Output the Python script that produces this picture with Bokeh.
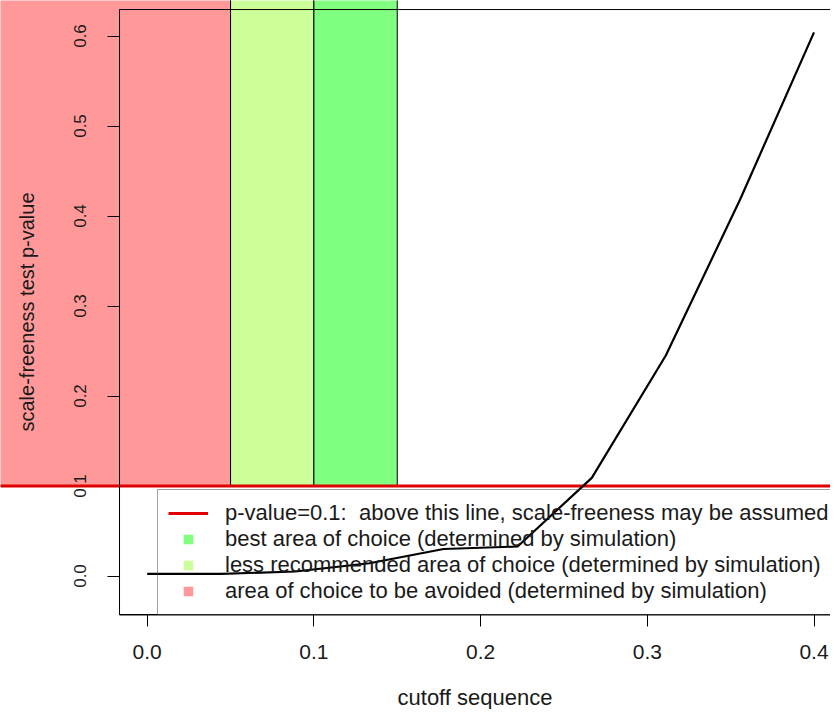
import math
from bokeh.plotting import figure
from bokeh.models import (Range1d, FixedTicker, Span, Legend, LegendItem,
                          CustomJSTickFormatter, ColumnDataSource)
from bokeh.embed import file_html
from bokeh.resources import INLINE

# ---------------- data ----------------
cutoff = [0.0, 0.0444, 0.0889, 0.1333, 0.1778, 0.2222, 0.2667, 0.3111, 0.3556, 0.4]
pvalue = [0.0024, 0.0024, 0.005, 0.0142, 0.030, 0.0328, 0.109, 0.245, 0.418, 0.604]

x_ticks = [0.0, 0.1, 0.2, 0.3, 0.4]
x_tick_labels = ["0.0", "0.1", "0.2", "0.3", "0.4"]
y_ticks = [0.0, 0.1, 0.2, 0.3, 0.4, 0.5, 0.6]
y_tick_labels = ["0.0", "0.1", "0.2", "0.3", "0.4", "0.5", "0.6"]

threshold = 0.1
zone_names = ["avoid", "less", "best"]
zone_starts = [-1.0, 0.05, 0.10]
zone_ends = [0.05, 0.10, 0.15]
zone_colors = ["#FF9999", "#CCFF99", "#80FF80"]

legend_labels = [
    "p-value=0.1:  above this line, scale-freeness may be assumed",
    "best area of choice (determined by simulation)",
    "less recommended area of choice (determined by simulation)",
    "area of choice to be avoided (determined by simulation)",
]

RED_LINE = "#E00000"
TXT = "#1a1a1a"

# ---------------- layout (pixel mapping of the original) ----------------
W, H = 830, 709
X0PX, XSCALE = 146.7, 1667.0      # canvas px of x=0, px per unit
Y0PX, YSCALE = 575.5, 900.0       # canvas px of y=0, px per unit
x_start, x_end = (0 - X0PX) / XSCALE, (W - X0PX) / XSCALE
y_end, y_start = (Y0PX - 0) / YSCALE, (Y0PX - H) / YSCALE

box_x0, box_x1 = -0.0166, 0.4165
box_y0, box_y1 = -0.0433, 0.6294

p = figure(width=W, height=H, x_range=Range1d(x_start, x_end),
           y_range=Range1d(y_start, y_end), output_backend="svg",
           toolbar_location=None, min_border=0, outline_line_color=None,
           background_fill_color="white")
p.grid.visible = False

# zones
src_z = ColumnDataSource(dict(left=zone_starts, right=zone_ends,
                              bottom=[threshold] * 3, top=[1.0] * 3,
                              color=zone_colors))
p.quad(left="left", right="right", bottom="bottom", top="top", source=src_z,
       fill_color="color", line_color="black", line_width=1)

# threshold line
p.add_layout(Span(location=threshold, dimension="width", line_color=RED_LINE,
                  line_width=3))

# legend proxies
nan = float("nan")
r_line = p.line([nan], [nan], line_color=RED_LINE, line_width=3)
r_best = p.scatter([nan], [nan], marker="square", fill_color=zone_colors[2], line_color=None)
r_less = p.scatter([nan], [nan], marker="square", fill_color=zone_colors[1], line_color=None)
r_avoid = p.scatter([nan], [nan], marker="square", fill_color=zone_colors[0], line_color=None)

legend = Legend(items=[LegendItem(label=legend_labels[0], renderers=[r_line]),
                       LegendItem(label=legend_labels[1], renderers=[r_best]),
                       LegendItem(label=legend_labels[2], renderers=[r_less]),
                       LegendItem(label=legend_labels[3], renderers=[r_avoid])],
                location=(157, 94), padding=10, spacing=0, margin=0,
                glyph_width=40, glyph_height=24, label_height=24,
                label_standoff=17, label_width=640,
                label_text_font="Liberation Sans", label_text_font_size="22px",
                label_text_color=TXT, border_line_color="#444444",
                border_line_width=1, background_fill_alpha=0.0)
p.add_layout(legend)

# plot box
p.quad(left=[box_x0], right=[box_x1], bottom=[box_y0], top=[box_y1],
       fill_color=None, line_color="black", line_width=1, level="overlay")

# curve
p.line(cutoff, pvalue, line_color="black", line_width=2.2, level="overlay")

# axes
xa = p.xaxis[0]
xa.fixed_location = box_y0
xa.bounds = (box_x0, box_x1)
xa.ticker = FixedTicker(ticks=x_ticks, minor_ticks=[])
xa.formatter = CustomJSTickFormatter(args=dict(labels=x_tick_labels), code="return labels[index]")
xa.major_tick_out = 12
xa.major_tick_in = 0
xa.minor_tick_line_color = None
xa.axis_line_color = "black"
xa.major_tick_line_color = "black"
xa.major_label_text_font = "Liberation Sans"
xa.major_label_text_font_size = "21px"
xa.major_label_text_color = TXT
xa.major_label_standoff = 18
xa.axis_label = "cutoff sequence"
xa.axis_label_text_font = "Liberation Sans"
xa.axis_label_text_font_size = "22px"
xa.axis_label_text_font_style = "normal"
xa.axis_label_text_color = TXT
xa.axis_label_standoff = 23

ya = p.yaxis[0]
ya.fixed_location = box_x0
ya.bounds = (box_y0, box_y1)
ya.ticker = FixedTicker(ticks=y_ticks, minor_ticks=[])
ya.formatter = CustomJSTickFormatter(args=dict(labels=y_tick_labels), code="return labels[index]")
ya.major_tick_out = 12
ya.major_tick_in = 0
ya.minor_tick_line_color = None
ya.axis_line_color = "black"
ya.major_tick_line_color = "black"
ya.major_label_orientation = "vertical"
ya.major_label_text_font = "'Liberation Sans Narrow', 'Liberation Sans'"
ya.major_label_text_font_size = "17px"
ya.major_label_text_color = TXT
ya.major_label_standoff = 22
ya.axis_label = "scale-freeness test p-value"
ya.axis_label_text_font = "Liberation Sans"
ya.axis_label_text_font_size = "20px"
ya.axis_label_text_font_style = "normal"
ya.axis_label_text_color = TXT
ya.axis_label_standoff = 33

open("out.html", "w").write(file_html(p, INLINE))
